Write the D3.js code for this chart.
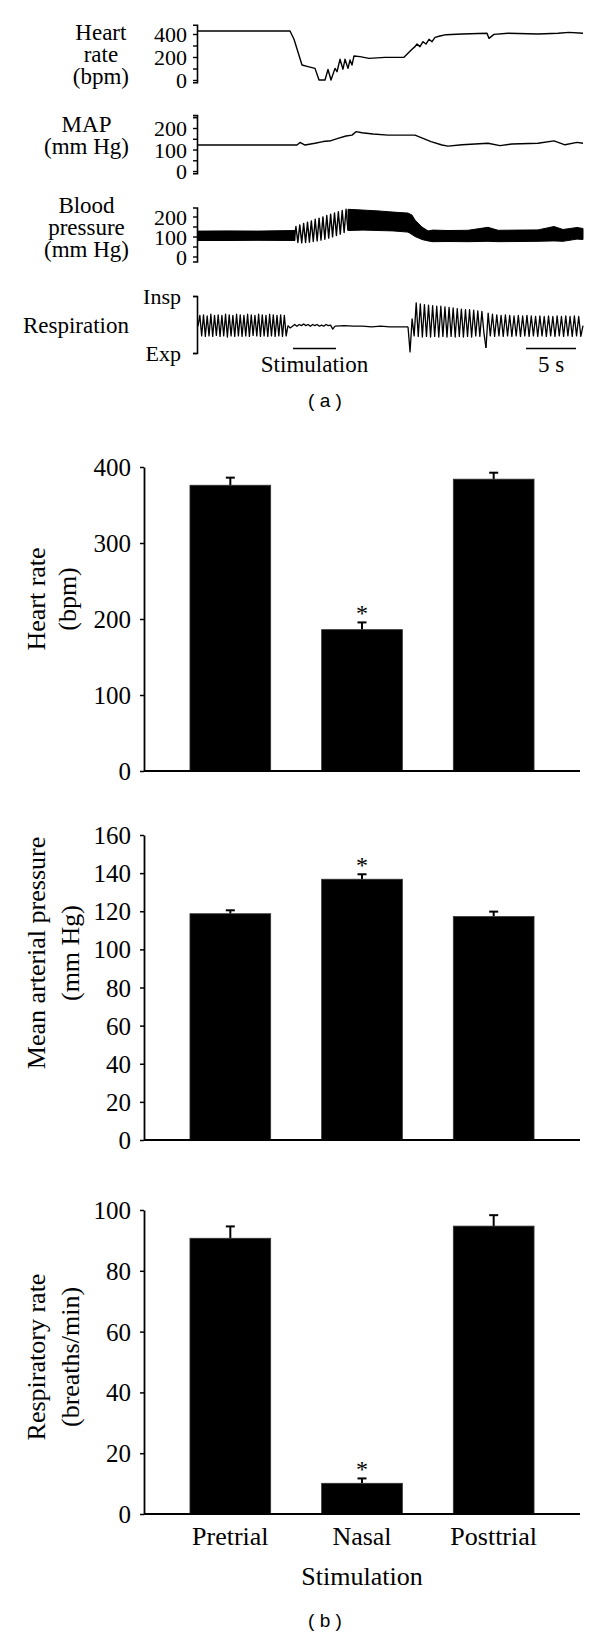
<!DOCTYPE html>
<html>
<head>
<meta charset="utf-8">
<script src="https://cdnjs.cloudflare.com/ajax/libs/d3/7.8.5/d3.min.js"></script>
<style>
  body { margin: 0; background: #fff; }
  svg { display: block; background: #fff; }
  text { font-family: "Liberation Serif", "Times New Roman", serif; fill: #000; }
  .tag { font-family: "Liberation Sans", Arial, sans-serif; }
</style>
</head>
<body>
<div id="chart"></div>
<script>
"use strict";

// ---- panel (a): traces, time in seconds ----
var hrTime = [0, 9.2, 9.6, 10.4, 11.0, 11.7, 12.1, 12.7, 13.0, 13.3, 13.7, 13.9, 14.2, 14.5, 14.7, 15.0, 15.2, 15.4, 15.6, 16.2, 17.1, 18.7, 20.6, 21.0, 21.4, 21.7, 21.9, 22.2, 22.5, 22.8, 23.1, 23.4, 23.7, 24.2, 24.8, 26.4, 28.9, 29.1, 29.6, 31.0, 34.0, 36.0, 37.1, 38.5];
var hrBpm = [426, 426, 354, 130, 116, 101, 0, 0, 91, 0, 101, 72, 180, 94, 180, 101, 174, 130, 209, 203, 188, 197, 197, 232, 267, 290, 313, 290, 333, 313, 354, 333, 371, 383, 394, 400, 406, 362, 397, 406, 400, 406, 414, 406];

var mapTime = [0, 7.1, 9.9, 10.2, 10.7, 11.7, 12.5, 13.3, 14.0, 14.8, 15.4, 15.8, 16.4, 17.5, 19.0, 21.7, 22.5, 23.3, 24.4, 25.0, 26.4, 29.0, 30.2, 31.4, 34.0, 35.6, 36.7, 37.9, 38.5];
var mapValue = [121, 121, 121, 133, 121, 129, 137, 141, 152, 163, 167, 183, 178, 172, 167, 167, 152, 137, 121, 116, 122, 129, 118, 126, 129, 140, 122, 133, 129];

// blood pressure: envelope of the dense pulse band (null = separate beats)
var bpBandTime = [0, 3, 6, 9.7, 12, 15.0, 16.5, 18, 19.5, 21.0, 21.4, 21.7, 22.4, 23.0, 23.5, 25, 27, 29.0, 30, 32, 34, 35.6, 36.5, 37.9, 38.5];
var bpUpper = [127, 128, 127, 130, null, 236, 232, 228, 222, 217, 207, 182, 147, 128, 132, 130, 131, 146, 131, 132, 133, 150, 135, 145, 140];
var bpLower = [80, 80, 81, 80, null, 130, 132, 130, 128, 122, 110, 100, 85, 78, 74, 75, 74, 76, 74, 75, 76, 78, 76, 87, 85];
// single beats during stimulation
var bpBeatSpan = [9.6, 15.0];
var bpBeats = [80, 150, 70, 158, 68, 165, 70, 172, 72, 178, 75, 186, 78, 192, 82, 198, 86, 205, 92, 212, 98, 218, 105, 224, 112, 230, 120, 236, 130];

// respiration, % between Exp (0) and Insp (100), peaks and troughs per segment
var respSpans = [[0, 9.0], [9.0, 13.7], [13.7, 21.0], [21.0, 28.8], [28.8, 38.5]];
var respPre = [47, 66, 30, 67, 29, 65, 30, 68, 29, 66, 31, 67, 29, 66, 30, 68, 28, 67, 30, 66, 29, 68, 30, 67, 29, 66, 30, 68, 29, 67, 31, 66, 30, 68, 29, 67, 30, 66, 29, 68, 30, 67, 29, 66, 30, 67, 29, 66, 30, 48];
var respStim = [48, 44, 47, 50, 47, 50, 48, 51, 48, 50, 47, 50, 48, 50, 47, 49, 47, 50, 48, 49, 42, 47];
var respApnea = [47, 48, 47, 47, 46, 47, 46, 46, 46];
var respRecover = [46, 2, 60, 30, 88, 29, 86, 28, 85, 29, 84, 28, 83, 29, 82, 28, 82, 29, 81, 28, 80, 29, 79, 28, 78, 29, 77, 28, 76, 29, 76, 28, 75, 30, 74, 29, 73, 35, 9];
var respPost = [9, 70, 30, 68, 29, 67, 30, 66, 29, 67, 30, 66, 29, 65, 30, 66, 29, 65, 30, 66, 29, 65, 30, 64, 29, 65, 30, 64, 29, 65, 30, 64, 29, 65, 30, 64, 29, 65, 30, 64, 29, 65, 30, 64, 29, 48];
var stimWindow = [9.5, 13.8];
var scaleBarSec = [32.8, 37.8];

// ---- panel (b): group means and SEM ----
var categories = ["Pretrial", "Nasal", "Posttrial"];
var significant = [false, true, false];
var heartRate = [376, 186, 384];
var heartRateErr = [10, 9.5, 8.5];
var meanArterial = [118.7, 136.8, 117.2];
var meanArterialErr = [1.8, 2.6, 2.6];
var respRate = [90.7, 10.1, 94.7];
var respRateErr = [3.9, 1.6, 3.6];

(function() {
  var svg, tScale, traces, charts, bx;
  var drawLabelBlock, drawTrace, drawBars, spread, zipped;

  svg = d3.select("#chart").append("svg")
    .attr("width", 600)
    .attr("height", 1644);

  tScale = d3.scaleLinear().domain([0, 38.5]).range([198, 583]);

  // block of centred lines, right edge of the block fixed
  drawLabelBlock = function(lines, right, base, gap, size) {
    var g, maxW;
    g = svg.append("g").style("font-size", size + "px");
    g.selectAll("text").data(lines).enter().append("text")
      .attr("text-anchor", "middle")
      .attr("y", function(d, i) { return base + i * gap; })
      .text(function(d) { return d; });
    maxW = d3.max(g.selectAll("text").nodes(), function(n) { return n.getComputedTextLength(); });
    g.selectAll("text").attr("x", right - maxW / 2);
  };

  drawTrace = function(p) {
    var y, axis, g;
    y = d3.scaleLinear().domain(p.domain).range(p.range);
    drawLabelBlock(p.lines, 129, p.base, 22, 23);

    axis = d3.axisLeft(y)
      .tickValues(p.ticks)
      .tickSize(4)
      .tickSizeOuter(4)
      .tickPadding(p.pad)
      .tickFormat(p.format);
    g = svg.append("g")
      .attr("transform", "translate(197,0)")
      .call(axis);
    g.select(".domain").attr("stroke-width", 1.6);
    g.selectAll(".tick line").attr("stroke-width", 1.4);
    // minor ticks carry no label
    g.selectAll(".tick text").filter(function() { return this.textContent === ""; }).remove();
    g.selectAll(".tick text")
      .style("font-family", "Liberation Serif")
      .style("font-size", "22px")
      .attr("dy", "0.36em");

    if (p.band) {
      svg.append("path")
        .datum(p.band.time.map(function(t, i) { return {t: t, hi: p.band.hi[i], lo: p.band.lo[i]}; }))
        .attr("fill", "#000")
        .attr("stroke", "#000")
        .attr("stroke-width", 1)
        .attr("d", d3.area()
          .defined(function(d) { return d.hi != null; })
          .x(function(d) { return tScale(d.t); })
          .y0(function(d) { return y(d.lo); })
          .y1(function(d) { return y(d.hi); }));
    }
    p.series.forEach(function(s) {
      svg.append("path")
        .datum(s)
        .attr("fill", "none")
        .attr("stroke", "#000")
        .attr("stroke-width", p.lw)
        .attr("stroke-linejoin", "round")
        .attr("d", d3.line()
          .x(function(d) { return tScale(d.t); })
          .y(function(d) { return y(d.v); }));
    });
  };

  // evenly spread a list of peaks across its time span
  spread = function(span, vals) {
    var ix = d3.scaleLinear().domain([0, vals.length - 1]).range(span);
    return vals.map(function(v, i) { return {t: ix(i), v: v}; });
  };
  zipped = function(ts, vs) {
    return ts.map(function(t, i) { return {t: t, v: vs[i]}; });
  };

  traces = [
    { lines: ["Heart", "rate", "(bpm)"], base: 40, domain: [-20, 480], range: [82.3, 24.8],
      ticks: [0, 100, 200, 300, 400], pad: 6, lw: 1.4,
      format: function(d) { return d % 200 === 0 ? d : ""; },
      series: [zipped(hrTime, hrBpm)] },
    { lines: ["MAP", "(mm Hg)"], base: 132, domain: [-10, 260], range: [173.2, 115.1],
      ticks: [0, 50, 100, 150, 200, 250], pad: 6, lw: 1.4,
      format: function(d) { return d % 100 === 0 && d <= 200 ? d : ""; },
      series: [zipped(mapTime, mapValue)] },
    { lines: ["Blood", "pressure", "(mm Hg)"], base: 213, domain: [-25, 245], range: [261.5, 207.5],
      ticks: [0, 50, 100, 150, 200], pad: 6, lw: 1.4,
      format: function(d) { return d % 100 === 0 ? d : ""; },
      band: {time: bpBandTime, hi: bpUpper, lo: bpLower},
      series: [spread(bpBeatSpan, bpBeats)] },
    { lines: ["Respiration"], base: 333, domain: [0, 100], range: [353, 296],
      ticks: [0, 100], pad: 12, lw: 1.3,
      format: function(d) { return d === 100 ? "Insp" : "Exp"; },
      series: [respPre, respStim, respApnea, respRecover, respPost].map(function(vals, i) { return spread(respSpans[i], vals); }) }
  ];
  traces.forEach(drawTrace);

  // stimulation marker and time scale bar
  svg.append("line")
    .attr("x1", tScale(stimWindow[0])).attr("x2", tScale(stimWindow[1]))
    .attr("y1", 348.5).attr("y2", 348.5)
    .attr("stroke", "#000").attr("stroke-width", 1.6);
  svg.append("text")
    .attr("x", tScale(d3.mean(stimWindow))).attr("y", 372)
    .attr("text-anchor", "middle")
    .style("font-size", "23px")
    .text("Stimulation");
  svg.append("line")
    .attr("x1", tScale(scaleBarSec[0])).attr("x2", tScale(scaleBarSec[1]))
    .attr("y1", 348.5).attr("y2", 348.5)
    .attr("stroke", "#000").attr("stroke-width", 1.6);
  svg.append("text")
    .attr("x", tScale(d3.mean(scaleBarSec))).attr("y", 372)
    .attr("text-anchor", "middle")
    .style("font-size", "23px")
    .text((scaleBarSec[1] - scaleBarSec[0]) + " s");

  svg.append("text").attr("class", "tag")
    .attr("x", 325).attr("y", 407)
    .attr("text-anchor", "middle")
    .style("font-size", "19px")
    .text("( a )");

  // ---- panel (b) ----
  bx = d3.scaleBand().domain(categories).range([144, 580]).paddingInner(0.387).paddingOuter(0.349);

  drawBars = function(c) {
    var y, g, axis, data, t;
    y = d3.scaleLinear().domain(c.domain).range(c.range);
    data = categories.map(function(k, i) { return {k: k, v: c.values[i], e: c.errs[i], sig: significant[i]}; });

    axis = d3.axisLeft(y).tickValues(d3.range(0, c.domain[1] + 1, c.step)).tickSize(4).tickSizeOuter(0).tickPadding(9);
    g = svg.append("g").attr("transform", "translate(144,0)").call(axis);
    g.select(".domain").attr("stroke-width", 1.8);
    g.selectAll(".tick line").attr("stroke-width", 1.5);
    g.selectAll(".tick text")
      .style("font-family", "Liberation Serif")
      .style("font-size", "25px")
      .attr("dy", "0.34em");

    // error bars first, bar drawn over the lower half
    svg.append("g").selectAll("g").data(data).enter().append("g")
      .each(function(d) {
        var gg = d3.select(this), cx = bx(d.k) + bx.bandwidth() / 2;
        gg.append("line")
          .attr("x1", cx).attr("x2", cx)
          .attr("y1", y(d.v)).attr("y2", y(d.v + d.e))
          .attr("stroke", "#000").attr("stroke-width", 2);
        gg.append("line")
          .attr("x1", cx - 4.5).attr("x2", cx + 4.5)
          .attr("y1", y(d.v + d.e)).attr("y2", y(d.v + d.e))
          .attr("stroke", "#000").attr("stroke-width", 2);
        if (d.sig) {
          gg.append("text")
            .attr("x", cx).attr("y", y(d.v + d.e) - 1)
            .attr("text-anchor", "middle")
            .style("font-size", "24px")
            .text("*");
        }
      });

    svg.append("g").selectAll("rect").data(data).enter().append("rect")
      .attr("x", function(d) { return bx(d.k); })
      .attr("width", bx.bandwidth())
      .attr("y", function(d) { return y(d.v); })
      .attr("height", function(d) { return y(0) - y(d.v); })
      .attr("fill", "#000")
      .attr("stroke", "#333")
      .attr("stroke-width", 0.8);

    svg.append("line")
      .attr("x1", 144).attr("x2", 580)
      .attr("y1", y(0)).attr("y2", y(0))
      .attr("stroke", "#000").attr("stroke-width", 1.8);

    // rotated y title
    t = svg.append("g")
      .attr("transform", "translate(" + c.titleX + "," + c.titleY + ") rotate(-90)")
      .style("font-size", "26px");
    c.title.forEach(function(line, i) {
      t.append("text")
        .attr("text-anchor", "middle")
        .attr("y", i * c.titleGap)
        .text(line);
    });
  };

  charts = [
    { values: heartRate, errs: heartRateErr, domain: [0, 400], range: [771, 467], step: 100,
      title: ["Heart rate", "(bpm)"], titleX: 45, titleY: 599, titleGap: 31 },
    { values: meanArterial, errs: meanArterialErr, domain: [0, 160], range: [1140, 835], step: 20,
      title: ["Mean arterial pressure", "(mm Hg)"], titleX: 45, titleY: 953, titleGap: 34 },
    { values: respRate, errs: respRateErr, domain: [0, 100], range: [1514, 1210], step: 20,
      title: ["Respiratory rate", "(breaths/min)"], titleX: 45, titleY: 1357, titleGap: 34 }
  ];
  charts.forEach(drawBars);

  // category labels under the last chart
  svg.append("g").selectAll("text").data(categories).enter().append("text")
    .attr("x", function(d) { return bx(d) + bx.bandwidth() / 2; })
    .attr("y", 1545)
    .attr("text-anchor", "middle")
    .style("font-size", "26px")
    .text(function(d) { return d; });
  svg.append("text")
    .attr("x", bx("Nasal") + bx.bandwidth() / 2).attr("y", 1585)
    .attr("text-anchor", "middle")
    .style("font-size", "26px")
    .text("Stimulation");

  svg.append("text").attr("class", "tag")
    .attr("x", 325).attr("y", 1627)
    .attr("text-anchor", "middle")
    .style("font-size", "19px")
    .text("( b )");
})();
</script>
</body>
</html>
